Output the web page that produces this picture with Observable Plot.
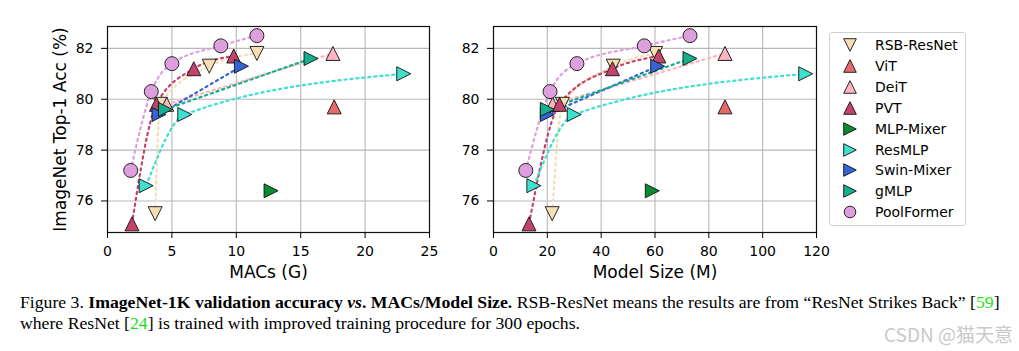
<!DOCTYPE html>
<html>
<head>
<meta charset="utf-8">
<script src="https://cdn.jsdelivr.net/npm/d3@7"></script>
<script src="https://cdn.jsdelivr.net/npm/@observablehq/plot@0.6"></script>
<style>
  html, body { margin: 0; padding: 0; background: #fff; }
  body { width: 1019px; height: 351px; position: relative; overflow: hidden; }
  #left, #right { position: absolute; top: 0; }
  #left { left: 0; }
  #right { left: 440px; }
  #legend { position: absolute; left: 829px; top: 32px; width: 135px; height: 192px;
    border: 1px solid #d0d0d0; border-radius: 3px; background: #fff;
    font-family: "DejaVu Sans", sans-serif; font-size: 14px; color: #000; }
  .row { position: absolute; left: 0; height: 20px; display: flex; align-items: center; }
  .row svg { position: absolute; left: 7px; }
  .row span { position: absolute; left: 45px; white-space: nowrap; line-height: 20px; top: 0; }
  #caption { position: absolute; left: 20px; top: 292px; font-family: "Liberation Serif", "Times New Roman", serif;
    font-size: 17.7px; line-height: 21px; color: #000; white-space: nowrap; }
  .cite { color: #22dd22; }
  #wm { position: absolute; left: 884px; top: 322px; font-family: "Noto Sans CJK SC", sans-serif;
    font-size: 19px; color: #c9c9c9; white-space: nowrap; line-height: 24px; }
</style>
</head>
<body>
<div id="left"></div>
<div id="right"></div>
<div id="legend"></div>
<div id="caption">Figure 3. <b>ImageNet-1K validation accuracy <i>vs</i>. MACs/Model Size.</b> RSB-ResNet means the results are from “ResNet Strikes Back” [<span class="cite">59</span>]<br>where ResNet [<span class="cite">24</span>] is trained with improved training procedure for 300 epochs.</div>
<div id="wm">CSDN @猫天意</div>
<script>
// ---- data ----
const seriesNames = ["RSB-ResNet", "ViT", "DeiT", "PVT", "MLP-Mixer", "ResMLP", "Swin-Mixer", "gMLP", "PoolFormer"];
const macsG = [
  [3.7, 4.1, 7.9, 11.6],
  [17.6],
  [4.6, 17.5],
  [1.9, 3.8, 6.7, 9.8],
  [12.7],
  [3.0, 6.0, 23.0],
  [4.0, 10.4],
  [4.5, 15.8],
  [1.8, 3.4, 5.0, 8.8, 11.6]
];
const paramsM = [
  [21.8, 25.6, 44.5, 60.2],
  [86],
  [22, 86],
  [13.2, 24.5, 44.2, 61.4],
  [59],
  [15, 30, 116],
  [20, 61],
  [20, 73],
  [12, 21, 31, 56, 73]
];
const top1Acc = [
  [75.5, 79.8, 81.3, 81.8],
  [79.7],
  [79.8, 81.8],
  [75.1, 79.8, 81.2, 81.7],
  [76.4],
  [76.6, 79.4, 81.0],
  [79.4, 81.3],
  [79.6, 81.6],
  [77.2, 80.3, 81.4, 82.1, 82.5]
];
const xTicksMacs = [0, 5, 10, 15, 20, 25];
const xTicksParams = [0, 20, 40, 60, 80, 100, 120];
const yTicks = [76, 78, 80, 82];

// ---- styles ----
const colors = ["#F5DEB3", "#E76A6A", "#FFB5C0", "#C4436B", "#0B8B30", "#40E0D0", "#3564D8", "#13B08B", "#DDA0DD"];
const markerKinds = ["down", "up", "up", "up", "right", "right", "right", "right", "circle"];

const symbols = {
  up: { draw(ctx, size) { const r = Math.sqrt(size / Math.PI); ctx.moveTo(0, -r); ctx.lineTo(r, r); ctx.lineTo(-r, r); ctx.closePath(); } },
  down: { draw(ctx, size) { const r = Math.sqrt(size / Math.PI); ctx.moveTo(0, r); ctx.lineTo(-r, -r); ctx.lineTo(r, -r); ctx.closePath(); } },
  right: { draw(ctx, size) { const r = Math.sqrt(size / Math.PI); ctx.moveTo(r, 0); ctx.lineTo(-r, -r); ctx.lineTo(-r, r); ctx.closePath(); } },
  circle: "circle"
};

const rows = [];
seriesNames.forEach((s, i) => {
  macsG[i].forEach((m, j) => rows.push({ series: s, idx: i, macs: m, params: paramsM[i][j], acc: top1Acc[i][j] }));
});

function makePlot(xField, xDomain, xTicks, xLabel, width, mLeft, mRight, yLabel) {
  const marks = [
    Plot.gridX(xTicks, { stroke: "#b8b8b8", strokeOpacity: 1, strokeWidth: 1.1 }),
    Plot.gridY(yTicks, { stroke: "#b8b8b8", strokeOpacity: 1, strokeWidth: 1.1 }),
  ];
  seriesNames.forEach((s, i) => {
    const d = rows.filter(r => r.idx === i);
    if (d.length > 1) {
      marks.push(Plot.line(d, { x: xField, y: "acc", stroke: colors[i], strokeWidth: 2.2,
        strokeDasharray: "2.2,3.8", curve: "monotone-x" }));
    }
  });
  seriesNames.forEach((s, i) => {
    const d = rows.filter(r => r.idx === i);
    marks.push(Plot.dot(d, { x: xField, y: "acc", symbol: symbols[markerKinds[i]], r: 7,
      fill: colors[i], stroke: "#111", strokeWidth: 0.9 }));
  });
  marks.push(Plot.frame({ stroke: "#111", strokeWidth: 1.2 }));
  marks.push(Plot.axisX(xTicks, { tickSize: 6, tickPadding: 8, label: null, fontSize: 14 }));
  marks.push(Plot.axisY(yTicks, { tickSize: 6, tickPadding: 8, label: null, fontSize: 14 }));
  marks.push(Plot.text([xLabel], { frameAnchor: "bottom", dy: 45, fontSize: 17, text: d => d }));
  if (yLabel) marks.push(Plot.text([yLabel], { frameAnchor: "left", textAnchor: "middle", dx: -47, rotate: -90, fontSize: 17, text: d => d }));
  return Plot.plot({
    width, height: 280,
    marginLeft: mLeft, marginRight: mRight, marginTop: 26, marginBottom: 48,
    x: { domain: xDomain },
    y: { domain: [74.76, 82.86] },
    style: { fontFamily: "DejaVu Sans, sans-serif", fontSize: "14px", color: "#000", background: "transparent", overflow: "visible" },
    marks
  });
}

document.getElementById("left").append(makePlot("macs", [0, 25], xTicksMacs, "MACs (G)", 440, 107, 11, "ImageNet Top-1 Acc (%)"));
document.getElementById("right").append(makePlot("params", [0, 120], xTicksParams, "Model Size (M)", 390, 53, 14, null));

// ---- legend ----
const legend = document.getElementById("legend");
seriesNames.forEach((s, i) => {
  const row = document.createElement("div");
  row.className = "row";
  row.style.top = (2 + i * 20.9) + "px";
  const svg = d3.create("svg").attr("width", 26).attr("height", 20);
  const r = 6.3;
  const p = d3.path();
  if (markerKinds[i] === "circle") {
    svg.append("circle").attr("cx", 13).attr("cy", 10).attr("r", 5.8).attr("fill", colors[i]).attr("stroke", "#111").attr("stroke-width", 0.9);
  } else {
    symbols[markerKinds[i]].draw(p, r * r * Math.PI);
    svg.append("path").attr("d", p.toString()).attr("transform", "translate(13,10)").attr("fill", colors[i]).attr("stroke", "#111").attr("stroke-width", 0.9);
  }
  row.append(svg.node());
  const span = document.createElement("span");
  span.textContent = s;
  row.append(span);
  legend.append(row);
});
</script>
</body>
</html>
